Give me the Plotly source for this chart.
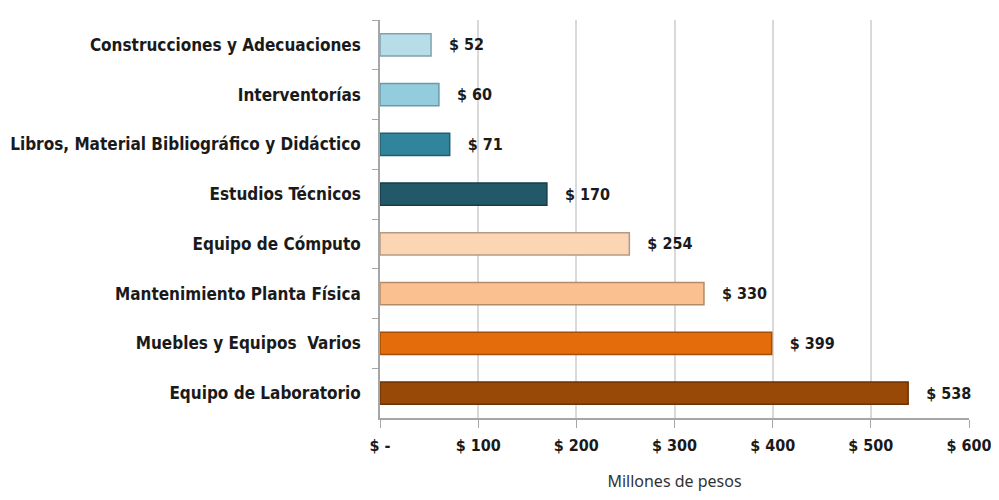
import plotly.graph_objects as go

# Data (top to bottom as in the reference)
categories = [
    "Construcciones y Adecuaciones",
    "Interventorías",
    "Libros, Material Bibliográfico y Didáctico",
    "Estudios Técnicos",
    "Equipo de Cómputo",
    "Mantenimiento Planta Física",
    "Muebles y Equipos  Varios",
    "Equipo de Laboratorio",
]
values = [52, 60, 71, 170, 254, 330, 399, 538]
colors = ["#B7DEE8", "#93CDDD", "#31849B", "#215968",
          "#FCD5B5", "#FAC090", "#E46C0A", "#984807"]
edge_colors = ["#7FA3AD", "#6A9AA8", "#215E6E", "#163D48",
               "#B59A83", "#B58A67", "#A34E07", "#6A3205"]
tick_vals = [0, 100, 200, 300, 400, 500, 600]
tick_text = ["$ -", "$ 100", "$ 200", "$ 300", "$ 400", "$ 500", "$ 600"]

label_font = "DejaVu Sans Condensed, DejaVu Sans, sans-serif"

fig = go.Figure()

fig.add_trace(go.Bar(
    y=categories,
    x=values,
    orientation="h",
    marker=dict(color=colors, line=dict(color=edge_colors, width=1.5)),
    text=["   $ %d" % v for v in values],
    textposition="outside",
    textfont=dict(family=label_font, size=16, color="#1a1a1a", weight="bold"),
    cliponaxis=False,
    width=0.45,
))

# page has an 8px body margin, so the figure is sized to fit without scrollbars
fig.update_layout(
    width=983,
    height=484,
    paper_bgcolor="white",
    plot_bgcolor="white",
    margin=dict(l=372, r=22, t=12, b=74),
    showlegend=False,
    xaxis=dict(
        range=[0, 600],
        automargin=False,
        tickvals=tick_vals,
        ticktext=tick_text,
        tickfont=dict(family=label_font, size=16, color="#1a1a1a", weight="bold"),
        ticklabelstandoff=4,
        ticklabeloverflow="allow",
        showgrid=True,
        gridcolor="#D9D9D9",
        gridwidth=1.5,
        showline=True,
        linecolor="#A6A6A6",
        linewidth=1.5,
        ticks="outside",
        tickcolor="#A6A6A6",
        ticklen=8,
        zeroline=False,
        title=dict(text="Millones de pesos",
                   font=dict(family="Noto Sans, sans-serif", size=16, color="#333333"),
                   standoff=31),
    ),
    yaxis=dict(
        autorange="reversed",
        automargin=False,
        tickfont=dict(family=label_font, size=17, color="#1a1a1a", weight="bold"),
        ticklabelstandoff=14,
        showline=True,
        linecolor="#A6A6A6",
        linewidth=1.5,
        ticks="outside",
        tickson="boundaries",
        tickcolor="#A6A6A6",
        ticklen=6,
        showgrid=False,
    ),
)

fig.write_html("out.html")
